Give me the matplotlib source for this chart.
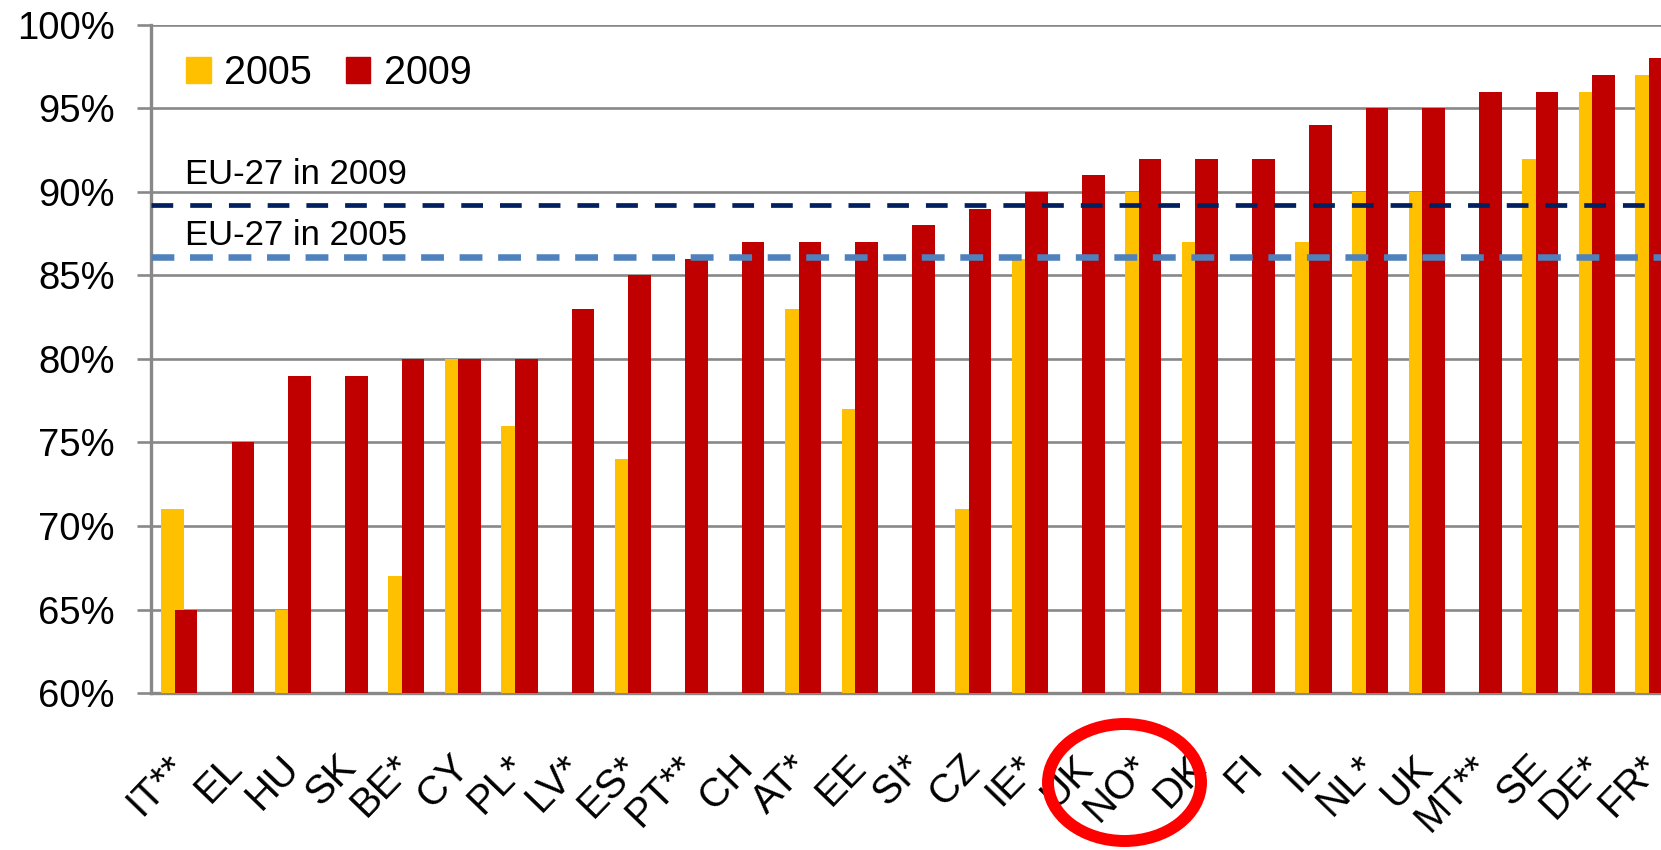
import matplotlib
matplotlib.use('Agg')
import matplotlib.pyplot as plt
import numpy as np
from matplotlib.patches import Ellipse, Patch

plt.rcParams['font.family'] = ['Liberation Sans', 'DejaVu Sans']

# страны и значения по годам (None - нет данных за 2005)
countries = ['IT**', 'EL', 'HU', 'SK', 'BE*', 'CY', 'PL*', 'LV*', 'ES*', 'PT**',
             'CH', 'AT*', 'EE', 'SI*', 'CZ', 'IE*', 'UK', 'NO*', 'DK', 'FI',
             'IL', 'NL*', 'UK', 'MT**', 'SE', 'DE*', 'FR*']
values_2005 = [71, None, 65, None, 67, 80, 76, None, 74, None,
               None, 83, 77, None, 71, 86, None, 90, 87, None,
               87, 90, 90, None, 92, 96, 97]
values_2009 = [65, 75, 79, 79, 80, 80, 80, 83, 85, 86,
               87, 87, 87, 88, 89, 90, 91, 92, 92, 92,
               94, 95, 95, 96, 96, 97, 98]
eu27_2009 = 89.2
eu27_2005 = 86.1
y_ticks = [60, 65, 70, 75, 80, 85, 90, 95, 100]

yellow = '#FFC000'
red = '#C00000'
gray = '#888888'

fig = plt.figure(figsize=(16.61, 8.5), dpi=100)
ax = fig.add_axes([0.0909, 0.1847, 0.9217, 0.7859])

x = np.arange(len(countries))
y05 = np.array([np.nan if v is None else v for v in values_2005], dtype=float)
y09 = np.array(values_2009, dtype=float)
bw = 0.4
ax.bar(x - 0.12, y05 - 60, bottom=60, width=bw, color=yellow, zorder=3, label='2005')
ax.bar(x + 0.12, y09 - 60, bottom=60, width=bw, color=red, zorder=4, label='2009')

ax.axhline(eu27_2009, color='#002060', lw=3.4, dashes=(4.6, 3.6), zorder=6)
ax.axhline(eu27_2005, color='#4F81BD', lw=4.7, dashes=(3.5, 2.4), zorder=6)
ax.text(0.1, eu27_2009 + 1.28, 'EU-27 in 2009', fontsize=25, va='baseline', zorder=7)
ax.text(0.1, eu27_2005 + 0.73, 'EU-27 in 2005', fontsize=25, va='baseline', zorder=7)

ax.set_xlim(-0.5, 26.5)
ax.set_ylim(60, 100)
ax.set_yticks(y_ticks)
ax.set_yticklabels(['%d%%' % v for v in y_ticks], fontsize=27.5)
ax.yaxis.grid(True, color=gray, lw=1.9, zorder=0)
ax.set_axisbelow(True)
ax.tick_params(axis='y', length=10, width=1.9, color=gray, pad=16)

ax.set_xticks(x)
ax.set_xticklabels(countries, fontsize=29, rotation=46, ha='right', va='center',
                   rotation_mode='anchor')
ax.tick_params(axis='x', length=0, pad=49)

for s in ['top', 'right']:
    ax.spines[s].set_visible(False)
for s in ['left', 'bottom']:
    ax.spines[s].set_color(gray)
    ax.spines[s].set_linewidth(2.4)

handles = [Patch(color=yellow), Patch(color=red)]
fig.legend(handles, ['2005', '2009'], loc='center left', bbox_to_anchor=(0.112, 0.9147),
           bbox_transform=fig.transFigure, ncol=2, frameon=False, fontsize=28.5,
           handlelength=0.63, handleheight=0.63, handletextpad=0.33, columnspacing=0.85,
           borderpad=0, borderaxespad=0)

# красный овал вокруг UK / NO* / DK
fig.patches.append(Ellipse((1124.5 / 1661, 1 - 782.5 / 850), 153 / 1661, 117 / 850,
                           transform=fig.transFigure, fill=False, edgecolor='#FF0000',
                           lw=8.6, zorder=10))

fig.savefig('out.png', dpi=100)
